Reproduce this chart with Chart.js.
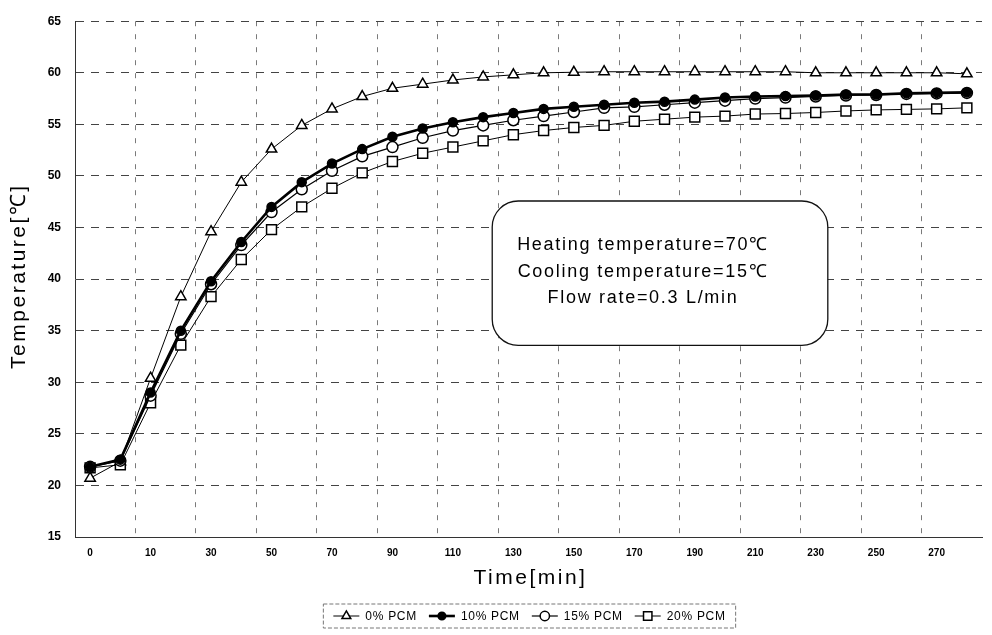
<!DOCTYPE html>
<html>
<head>
<meta charset="utf-8">
<script src="https://cdn.jsdelivr.net/npm/chart.js@4.4.1/dist/chart.umd.min.js"></script>
<style>
  html, body { margin: 0; padding: 0; background: #fff; }
  #wrap { width: 992px; height: 635px; }
</style>
</head>
<body>
<div id="wrap"><canvas id="c" width="992" height="635"></canvas></div>
<script>
// ---- data ----
const times = [0, 5, 10, 20, 30, 40, 50, 60, 70, 80, 90, 100, 110, 120, 130, 140, 150, 160, 170, 180, 190, 200, 210, 220, 230, 240, 250, 260, 270, 280];
const xTickLabels = ['0', '', '10', '', '30', '', '50', '', '70', '', '90', '', '110', '', '130', '', '150', '', '170', '', '190', '', '210', '', '230', '', '250', '', '270', ''];
const yTicks = [15, 20, 25, 30, 35, 40, 45, 50, 55, 60, 65];
const pcm0  = [20.7, 22.3, 30.4, 38.3, 44.6, 49.4, 52.6, 54.9, 56.5, 57.7, 58.5, 58.9, 59.3, 59.6, 59.8, 60.0, 60.05, 60.1, 60.1, 60.1, 60.1, 60.1, 60.1, 60.1, 60.0, 60.0, 60.0, 60.0, 60.0, 59.9];
const pcm10 = [21.8, 22.5, 29.0, 35.0, 39.8, 43.6, 47.0, 49.4, 51.2, 52.6, 53.8, 54.6, 55.2, 55.7, 56.1, 56.5, 56.7, 56.9, 57.1, 57.2, 57.4, 57.6, 57.7, 57.75, 57.8, 57.9, 57.9, 58.0, 58.05, 58.1];
const pcm15 = [21.8, 22.4, 28.7, 34.7, 39.5, 43.3, 46.5, 48.7, 50.5, 51.9, 52.8, 53.7, 54.4, 54.9, 55.4, 55.8, 56.2, 56.6, 56.7, 56.9, 57.1, 57.3, 57.5, 57.6, 57.7, 57.8, 57.85, 57.95, 58.0, 58.05];
const pcm20 = [21.7, 22.0, 28.0, 33.6, 38.3, 41.9, 44.8, 47.0, 48.8, 50.3, 51.4, 52.2, 52.8, 53.4, 54.0, 54.4, 54.7, 54.9, 55.3, 55.5, 55.7, 55.8, 56.0, 56.05, 56.15, 56.3, 56.4, 56.45, 56.5, 56.6];
const seriesLabels = ['0% PCM', '10% PCM', '15% PCM', '20% PCM'];
const noteLines = ['Heating temperature=70\u2103', 'Cooling temperature=15\u2103', 'Flow rate=0.3 L/min'];
const xTitle = 'Time[min]';
const yTitle = 'Temperature[\u2103]';

const FONT = '"Liberation Sans", Arial, sans-serif';

// custom plugin: axis titles, annotation box, legend
const decor = {
  id: 'decor',
  afterDraw(chart) {
    const ctx = chart.ctx;
    const ca = chart.chartArea;
    const ys = chart.scales.y;
    ctx.save();
    ctx.fillStyle = '#000';
    // axis titles
    ctx.font = '21px ' + FONT;
    ctx.letterSpacing = '2.5px';
    ctx.textAlign = 'center';
    ctx.textBaseline = 'middle';
    ctx.fillText(xTitle, (ca.left + ca.right) / 2 + 2, 578);
    ctx.save();
    ctx.translate(19, (ca.top + ca.bottom) / 2 - 3);
    ctx.rotate(-Math.PI / 2);
    ctx.fillText(yTitle, 0, 0);
    ctx.restore();

    // annotation box
    const bx0 = ca.left + (ca.right - ca.left) * 0.46;
    const bx1 = ca.left + (ca.right - ca.left) * 0.830;
    const by0 = ys.getPixelForValue(47.57);
    const by1 = ys.getPixelForValue(33.58);
    ctx.beginPath();
    ctx.roundRect(bx0, by0, bx1 - bx0, by1 - by0, 26);
    ctx.fillStyle = '#fff';
    ctx.fill();
    ctx.lineWidth = 1.3;
    ctx.strokeStyle = '#111';
    ctx.stroke();
    ctx.fillStyle = '#000';
    ctx.font = '18px ' + FONT;
    ctx.letterSpacing = '1.7px';
    const cx = (bx0 + bx1) / 2 - 17;
    const cy = (by0 + by1) / 2 - 1.5;
    noteLines.forEach((t, i) => ctx.fillText(t, cx, cy + (i - 1) * 26.5));

    // legend
    ctx.font = '12px ' + FONT;
    ctx.letterSpacing = '0.7px';
    const items = chart.data.datasets.slice().sort((a, b) => a.legendIndex - b.legendIndex);
    const segW = 26, gap1 = 6, gap2 = 12;
    const widths = items.map(d => segW + gap1 + ctx.measureText(d.label).width);
    const total = widths.reduce((a, b) => a + b, 0) + gap2 * (items.length - 1);
    const lx0 = 529.5 - total / 2;
    const ly = 616;
    ctx.setLineDash([4, 2]);
    ctx.lineWidth = 1;
    ctx.strokeStyle = '#777';
    ctx.strokeRect(lx0 - 10, 604, total + 20, 24);
    ctx.setLineDash([]);
    let x = lx0;
    items.forEach((d, i) => {
      ctx.strokeStyle = '#000';
      ctx.lineWidth = d.borderWidth;
      ctx.beginPath();
      ctx.moveTo(x, ly);
      ctx.lineTo(x + segW, ly);
      ctx.stroke();
      ctx.fillStyle = d.pointBackgroundColor;
      ctx.strokeStyle = '#000';
      ctx.lineWidth = d.pointBorderWidth;
      Chart.helpers.drawPoint(ctx, {
        pointStyle: d.pointStyle,
        radius: d.pointRadius * 0.85,
        borderWidth: d.pointBorderWidth
      }, x + segW / 2, ly);
      ctx.fillStyle = '#000';
      ctx.textAlign = 'left';
      ctx.textBaseline = 'middle';
      ctx.fillText(d.label, x + segW + gap1, ly + 1);
      x += widths[i] + gap2;
    });
    ctx.restore();
  }
};

function ds(label, data, style, radius, lineW, fill, order, legendIndex) {
  return {
    label, data,
    borderColor: '#000',
    borderWidth: lineW,
    pointStyle: style,
    pointRadius: radius,
    pointHoverRadius: radius,
    pointBorderColor: '#000',
    pointBackgroundColor: fill,
    pointBorderWidth: 1.5,
    tension: 0,
    fill: false,
    order,
    legendIndex
  };
}

new Chart(document.getElementById('c'), {
  type: 'line',
  data: {
    labels: times,
    datasets: [
      ds(seriesLabels[0], pcm0, 'triangle', 6, 1, '#fff', 4, 0),
      ds(seriesLabels[1], pcm10, 'circle', 4.5, 2.6, '#000', 1, 1),
      ds(seriesLabels[2], pcm15, 'circle', 5.5, 1.2, '#fff', 2, 2),
      ds(seriesLabels[3], pcm20, 'rect', 7, 1, '#fff', 3, 3)
    ]
  },
  options: {
    responsive: false,
    animation: false,
    devicePixelRatio: 1,
    layout: { padding: { top: 15, right: 10, bottom: 45, left: 0 } },
    plugins: {
      legend: { display: false },
      tooltip: { enabled: false }
    },
    scales: {
      x: {
        type: 'category',
        offset: true,
        afterFit: s => { s.height = 53; },
        grid: {
          offset: true,
          drawTicks: false,
          color: c => (c.index > 0 && c.index % 2 === 0) ? '#7a7a7a' : 'rgba(0,0,0,0)',
          lineWidth: 1,
          tickLength: 0
        },
        border: { display: true, color: '#333', dash: [5, 8], width: 1 },
        ticks: {
          autoSkip: false,
          maxRotation: 0,
          padding: 10,
          color: '#000',
          font: { family: FONT, size: 10, weight: 'bold' },
          callback: (v, i) => xTickLabels[i]
        }
      },
      y: {
        min: 15, max: 65,
        afterFit: s => { s.width = 75; },
        afterBuildTicks: s => { s.ticks = yTicks.map(v => ({ value: v })); },
        grid: {
          drawTicks: false,
          color: '#444',
          lineWidth: 1
        },
        border: { display: true, color: '#333', dash: [8, 7], width: 1 },
        ticks: {
          padding: 14,
          color: '#000',
          font: { family: FONT, size: 12, weight: 'bold' }
        }
      }
    }
  },
  plugins: [decor]
});
</script>
</body>
</html>
